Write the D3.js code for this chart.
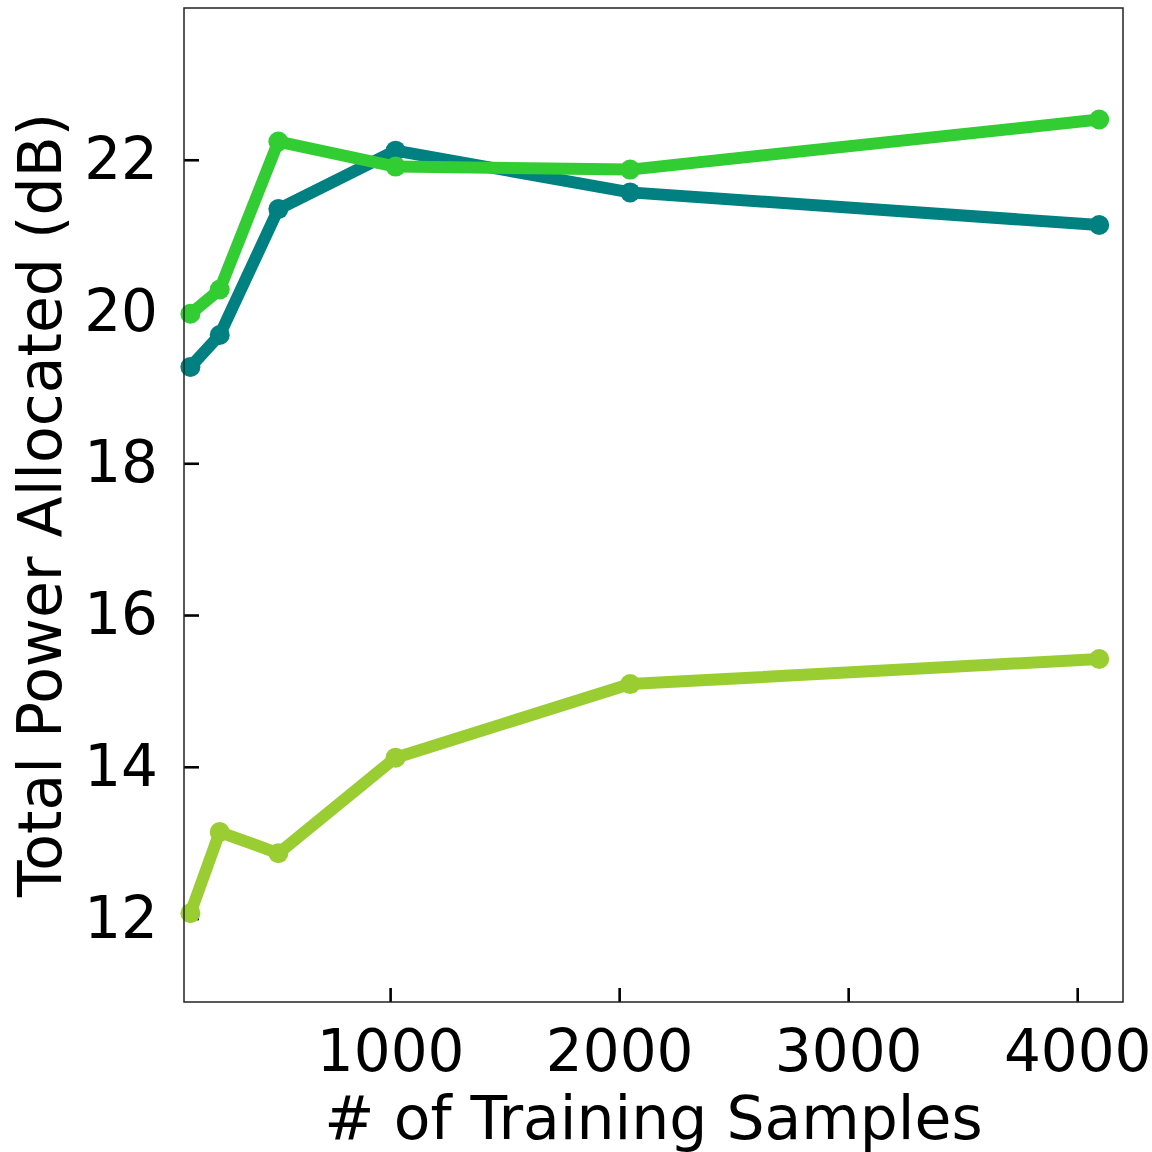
<!DOCTYPE html>
<html>
<head>
<meta charset="utf-8">
<script src="https://cdn.jsdelivr.net/npm/d3@7"></script>
<style>
  html, body { margin: 0; padding: 0; background: #fff; }
  svg { display: block; }
  text { font-family: "DejaVu Sans", sans-serif; fill: #000; }
</style>
</head>
<body>
<svg id="chart" width="1152" height="1152"></svg>
<script>
const samples = [128, 256, 512, 1024, 2048, 4096];
const seriesTeal = [19.27, 19.69, 21.35, 22.12, 21.57, 21.14];
const seriesLime = [19.97, 20.29, 22.24, 21.91, 21.87, 22.53];
const seriesYellowGreen = [12.07, 13.14, 12.86, 14.12, 15.09, 15.42];
const xTicks = [1000, 2000, 3000, 4000];
const yTicks = [12, 14, 16, 18, 20, 22];
const xLabel = "# of Training Samples";
const yLabel = "Total Power Allocated (dB)";

const series = [
  { values: seriesTeal, color: "#008080" },
  { values: seriesLime, color: "#32CD32" },
  { values: seriesYellowGreen, color: "#9ACD32" }
];

const W = 1152, H = 1152;
const margin = { left: 184, top: 8, right: 29, bottom: 150 };
const svg = d3.select("#chart");

const x = d3.scaleLinear().domain([100, 4200]).range([margin.left, W - margin.right]);
const y = d3.scaleLinear().domain([10.9, 24]).range([H - margin.bottom, margin.top]);

const fs = 58;
const lfs = 60;

const xAxis = svg.append("g")
  .attr("transform", `translate(0,${H - margin.bottom})`)
  .call(d3.axisBottom(x).tickValues(xTicks).tickSizeInner(-14).tickSizeOuter(0).tickPadding(28).tickFormat(d3.format("d")));
xAxis.select(".domain").remove();
xAxis.selectAll(".tick line").attr("stroke", "#000").attr("stroke-width", 2.6);
xAxis.selectAll(".tick text").style("font-size", fs + "px").style("font-family", "DejaVu Sans");

const yAxis = svg.append("g")
  .attr("transform", `translate(${margin.left},0)`)
  .call(d3.axisLeft(y).tickValues(yTicks).tickSizeInner(-15).tickSizeOuter(0).tickPadding(26).tickFormat(d3.format("d")));
yAxis.select(".domain").remove();
yAxis.selectAll(".tick line").attr("stroke", "#000").attr("stroke-width", 2.6);
yAxis.selectAll(".tick text").style("font-size", fs + "px").style("font-family", "DejaVu Sans");

const line = d3.line().x((d, i) => x(samples[i])).y(d => y(d));
const plot = svg.append("g");
series.forEach(s => {
  plot.append("path")
    .attr("d", line(s.values))
    .attr("fill", "none")
    .attr("stroke", s.color)
    .attr("stroke-width", 12)
    .attr("stroke-linejoin", "round");
  plot.selectAll(null).data(s.values).enter().append("circle")
    .attr("cx", (d, i) => x(samples[i]))
    .attr("cy", d => y(d))
    .attr("r", 10)
    .attr("fill", s.color);
});

svg.append("rect")
  .attr("x", margin.left).attr("y", margin.top)
  .attr("width", W - margin.left - margin.right)
  .attr("height", H - margin.top - margin.bottom)
  .attr("fill", "none").attr("stroke", "#222").attr("stroke-width", 1.5);

svg.append("text")
  .attr("x", (margin.left + W - margin.right) / 2)
  .attr("y", 1139)
  .attr("text-anchor", "middle")
  .style("font-size", lfs + "px")
  .text(xLabel);

svg.append("text")
  .attr("transform", `translate(61,${(margin.top + H - margin.bottom) / 2}) rotate(-90)`)
  .attr("text-anchor", "middle")
  .style("font-size", lfs + "px")
  .text(yLabel);
</script>
</body>
</html>
